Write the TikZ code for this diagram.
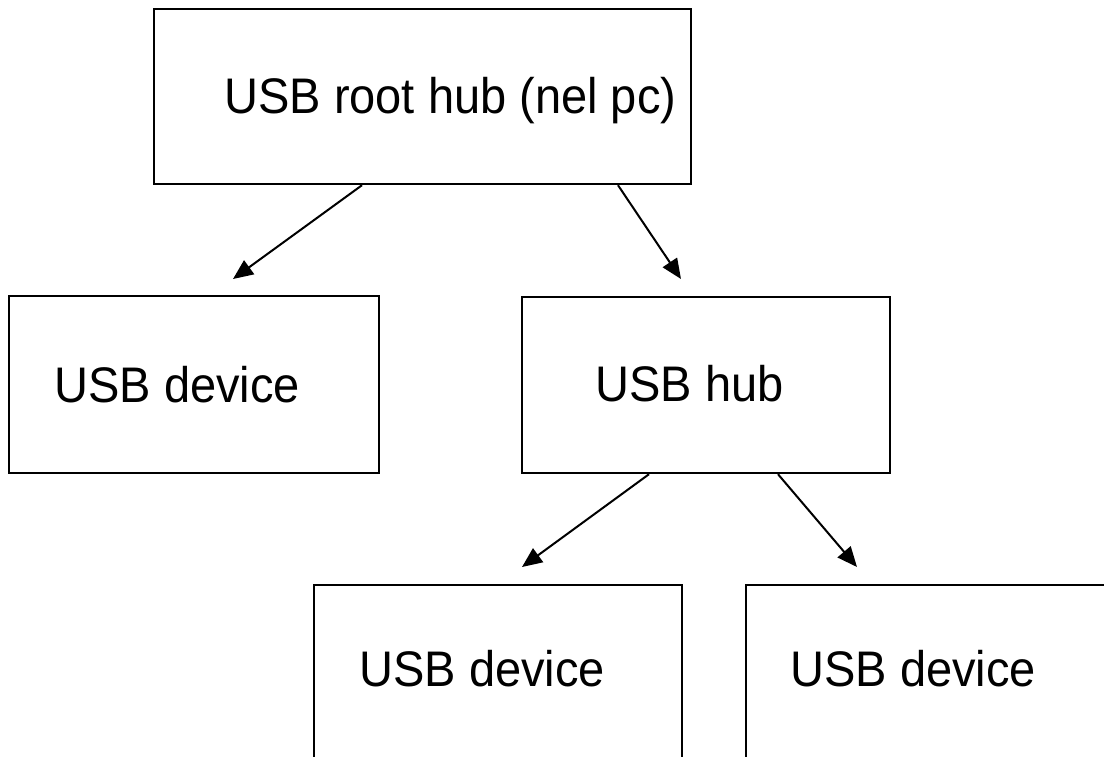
\documentclass[tikz,border=0pt]{standalone}
\usepackage{fontspec}
\setmainfont[FakeStretch=0.94]{Liberation Sans}
\usepackage{tikz}
\usetikzlibrary{arrows.meta, calc}

\newcommand{\usbfont}{\fontsize{25bp}{30bp}\selectfont}

\begin{document}
\begin{tikzpicture}[x=0.5bp, y=-0.5bp]
			\tikzstyle{every node} = [font = \usbfont]
			\tikzstyle{usbbox} = [draw, line width=1.1bp, anchor=north west, inner sep=0pt]
			\tikzstyle{usblabel} = [anchor=base west, inner sep=0pt]
			\tikzstyle{usblink} = [draw, line width=1bp, -{Triangle[length=10bp,width=8.5bp]}]
				\useasboundingbox (0,0) rectangle (1104,757);
				\clip (0,0) rectangle (1104,757);
				% boxes
				\node[usbbox, minimum width=268.5bp, minimum height=87.5bp] (root) at (153,8) {};
				\node[usbbox, minimum width=185bp, minimum height=88.5bp] (dev1) at (8,295) {};
				\node[usbbox, minimum width=184bp, minimum height=88bp] (hub) at (521,296) {};
				\node[usbbox, minimum width=184bp, minimum height=110bp] (dev2) at (313,584) {};
				\node[usbbox, minimum width=200bp, minimum height=110bp] (dev3) at (745,584) {};
				% texts
				\node[usblabel] (rootlbl) at (224,113) {USB root hub (nel pc)};
				\node[usblabel] (dev1lbl) at (54,402) {USB device};
				\node[usblabel] (hublbl) at (595,401) {USB hub};
				\node[usblabel] (dev2lbl) at (359,686) {USB device};
				\node[usblabel] (dev3lbl) at (790,686) {USB device};
				% arrow tips
				\coordinate (tipdev1) at (233,279);
				\coordinate (tiphub) at (681,279);
				\coordinate (tipdev2) at (522,567);
				\coordinate (tipdev3) at (857,567);
				\path[usblink] ($(root.south west)+(209,0)$) -- (tipdev1);
				\path[usblink] ($(root.south west)+(465,0)$) -- (tiphub);
				\path[usblink] ($(hub.south west)+(128,0)$) -- (tipdev2);
				\path[usblink] ($(hub.south west)+(257,0)$) -- (tipdev3);
\end{tikzpicture}
\end{document}
